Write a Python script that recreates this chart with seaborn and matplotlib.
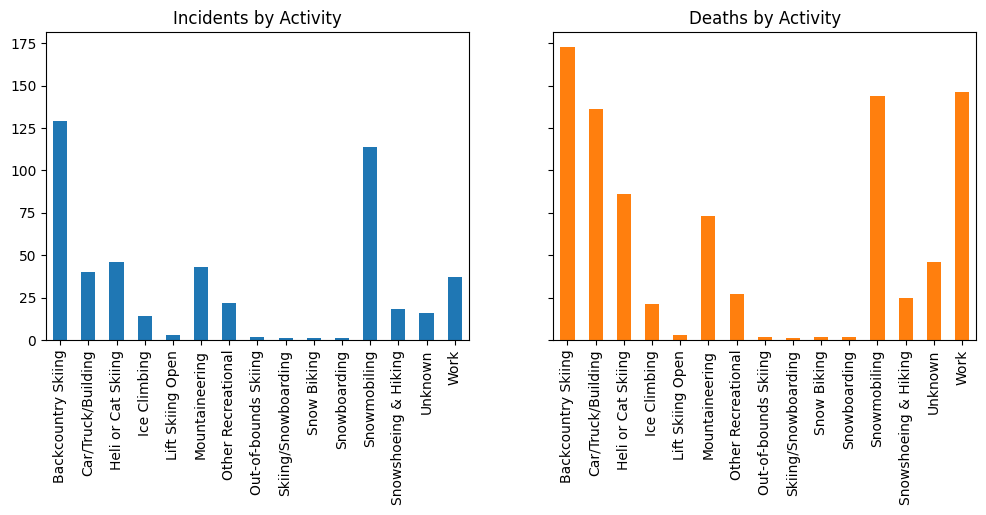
import matplotlib
matplotlib.use("Agg")
import matplotlib.pyplot as plt
import seaborn as sns
import pandas as pd

activities = ["Backcountry Skiing", "Car/Truck/Building", "Heli or Cat Skiing", "Ice Climbing",
              "Lift Skiing Open", "Mountaineering", "Other Recreational", "Out-of-bounds Skiing",
              "Skiing/Snowboarding", "Snow Biking", "Snowboarding", "Snowmobiling",
              "Snowshoeing & Hiking", "Unknown", "Work"]
incidents = [129, 40, 46, 14, 3, 43, 22, 2, 1, 1, 1, 114, 18, 16, 37]
deaths = [173, 136, 86, 21, 3, 73, 27, 2, 1, 2, 2, 144, 25, 46, 146]

df = pd.DataFrame({"activity": activities, "incidents": incidents, "deaths": deaths})

fig, axes = plt.subplots(1, 2, figsize=(9.86, 5.15), dpi=100, sharey=True)
fig.subplots_adjust(left=0.0467, right=0.990, top=0.9379, bottom=0.3398, wspace=0.2)

for ax, col, color, title in [(axes[0], "incidents", "#1f77b4", "Incidents by Activity"),
                               (axes[1], "deaths", "#ff7f0e", "Deaths by Activity")]:
    sns.barplot(data=df, x="activity", y=col, color=color, saturation=1, width=0.5,
                linewidth=0, ax=ax, order=activities)
    ax.set_title(title, fontsize=12)
    ax.set_xlabel("")
    ax.set_ylabel("")
    ax.tick_params(axis="x", rotation=90)
    ax.set_xlim(-0.5, len(activities) - 0.5)

axes[0].set_ylim(0, max(max(incidents), max(deaths)) * 1.05)
axes[0].set_yticks([0, 25, 50, 75, 100, 125, 150, 175])
axes[1].tick_params(axis="y", labelleft=False)

fig.savefig("out.png", dpi=100)
